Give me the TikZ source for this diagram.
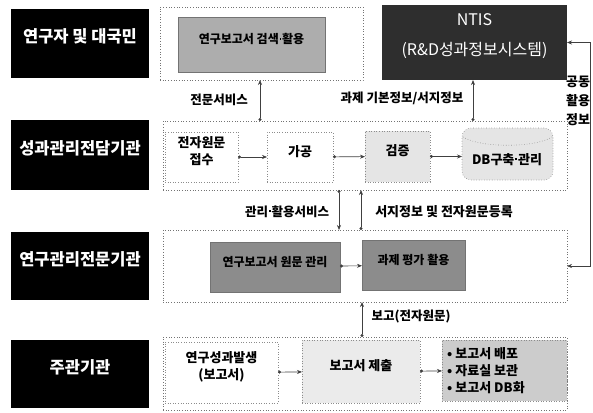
\documentclass[tikz,border=0pt]{standalone}
\usepackage{fontspec}
\setmainfont{Noto Sans CJK KR}
\usetikzlibrary{arrows.meta,fit}
\newcommand{\mdot}{{\kern0.06em\rule[0.36em]{0.16em}{0.16em}\kern0.06em}}
\begin{document}
\begin{tikzpicture}[x=1pt,y=-1pt,
  frame/.style={draw=black!55, dotted, line width=0.7pt, inner sep=0pt, outer sep=0pt},
  rowlabel/.style={fill=black, text=white, font=\bfseries\fontsize{16.5}{18}\selectfont, inner sep=0pt, outer sep=0pt},
  gbox/.style={fill=black!45, draw=black!55, font=\bfseries\fontsize{12}{14}\selectfont, inner sep=0pt, outer sep=0pt},
  wbox/.style={draw=black!45, dotted, line width=0.6pt, fill=white, align=center, inner sep=0pt, outer sep=0pt, font=\bfseries\fontsize{13}{17}\selectfont},
  pbox/.style={wbox, fill=black!10},
  conn/.style={draw=black!75, line width=0.6pt, {Circle[length=3pt]}-{Stealth[length=5pt,width=4pt]}},
  both/.style={draw=black!75, line width=0.6pt, {Stealth[length=5pt,width=4pt]}-{Stealth[length=5pt,width=4pt]}},
  lbl/.style={font=\bfseries\fontsize{12.5}{14}\selectfont, inner sep=1pt}
]
\useasboundingbox (0,0) rectangle (593,412);

% row frames
\node[frame, fit={(160,7)(363,80)}] (F1) {};
\node[frame, fit={(163,121)(567,190)}] (F2) {};
\node[frame, fit={(163,230)(567,302)}] (F3) {};
\node[frame, fit={(163,337)(567,410)}] (F4) {};

% row labels
\node[rowlabel, fit={(11,9)(149,78)}] (B1) {연구자 및 대국민};
\node[rowlabel, fit={(11,120)(149,190)}] (B2) {성과관리전담기관};
\node[rowlabel, fit={(11,232)(149,300)}] (B3) {연구관리전문기관};
\node[rowlabel, fit={(11,340)(149,408)}] (B4) {주관기관};

% row 1
\node[gbox, fill=black!32, fit={(178,17)(325,72)}] (G1) {연구보고서 검색\mdot 활용};
\node[fill=black!82, text=white, align=center, inner sep=0pt, outer sep=0pt,
      font=\fontsize{16}{30}\selectfont, fit={(382,5)(567,80)}] (NTIS) {NTIS\\(R\&D성과정보시스템)};

% row 2
\node[wbox, fit={(165,132)(238,182)}] (E1) {전자원문\\접수};
\node[wbox, fit={(267,132)(333,182)}] (E2) {가공};
\node[pbox, fit={(365,131)(430,182)}] (E3) {검증};
\node[pbox, rounded corners=9pt, fit={(462,128)(553,180)}] (DB) {};
\draw[black!45, dotted, line width=0.6pt] (463,137) .. controls (480,148) and (535,148) .. (552,137);
\node[font=\bfseries\fontsize{13}{15}\selectfont, inner sep=0pt] (DBt) at (507,160) {DB구축\mdot 관리};

% row 3
\node[gbox, fit={(210,242)(340,292)}] (G2) {연구보고서 원문 관리};
\node[gbox, fit={(362,240)(465,290)}] (G3) {과제 평가 활용};

% row 4
\node[wbox, fit={(165,342)(278,403)}] (R1) {연구성과발생\\(보고서)};
\node[pbox, fill=black!8, fit={(302,340)(420,403)}] (R2) {보고서 제출};
\node[pbox, fill=black!20, fit={(442,340)(567,401)}] (R3) {};
\node[align=left, anchor=west, inner sep=0pt, font=\bfseries\fontsize{13}{17}\selectfont] (R3t) at (447,371)
  {\textbullet\ 보고서 배포\\\textbullet\ 자료실 보관\\\textbullet\ 보고서 DB화};

% horizontal connectors
\draw[conn] (E1) -- (E2);
\draw[conn] (E2) -- (E3);
\draw[conn] (E3.east) -- (E3.east -| DB.west);
\draw[conn] (G2) -- (G3);
\draw[conn] (R1) -- (R2);
\draw[conn] (R2) -- (R3);

% vertical connectors
\coordinate (xa) at (260,0);
\coordinate (xb) at (473,0);
\coordinate (xc) at (339,0);
\coordinate (xd) at (361,0);
\coordinate (xe) at (362,0);
\coordinate (xk) at (590,0);
\draw[conn] (xa |- F2.north) -- (xa |- F1.south);
\draw[conn] (xb |- F2.north) -- (xb |- NTIS.south);
\draw[conn] (xc |- F2.south) -- (xc |- F3.north);
\draw[conn] (xd |- F3.north) -- (xd |- F2.south);
\draw[conn] (xe |- F4.north) -- (xe |- F3.south);
\draw[both] (NTIS.east) -- (NTIS.east -| xk) -- (xk |- F3.east) -- (F3.east);

% labels
\node[lbl] (L1) at (219,100) {전문서비스};
\node[lbl] (L2) at (402,98) {과제 기본정보/서지정보};
\node[lbl] (L3) at (287,212) {관리\mdot 활용서비스};
\node[lbl, font=\bfseries\fontsize{13}{14}\selectfont] (L4) at (444,212) {서지정보 및 전자원문등록};
\node[lbl] (L5) at (411,317) {보고(전자원문)};
\node[lbl, align=center, font=\bfseries\fontsize{13}{19}\selectfont] (L6) at (578,101) {공동\\활용\\정보};
\end{tikzpicture}
\end{document}
